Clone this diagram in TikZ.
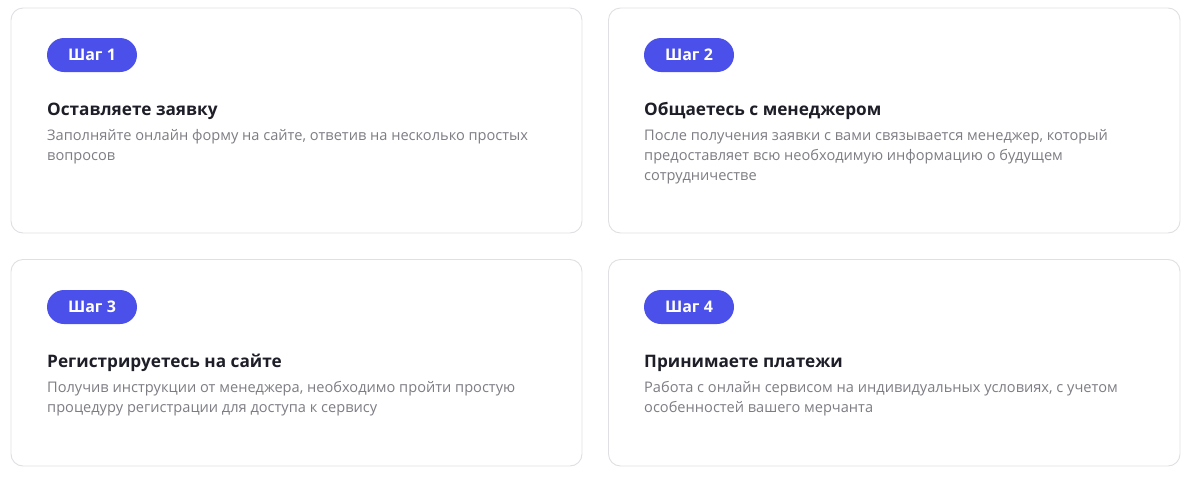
\documentclass[tikz,border=0pt]{standalone}
\usepackage{fontspec}
\setmainfont{Open Sans}
\definecolor{stepblue}{RGB}{74,80,233}
\definecolor{titleink}{RGB}{30,30,40}
\definecolor{bodygray}{RGB}{125,125,132}
\definecolor{cardline}{RGB}{224,224,228}
\tikzset{
    card/.style={draw=cardline, line width=0.9pt, rounded corners=12pt, fill=white},
    steppill/.style={fill=stepblue, rounded corners=17pt, minimum width=90pt, minimum height=34pt,
        inner sep=0pt, text=white, font=\bfseries\fontsize{16}{16}\selectfont},
    cardtitle/.style={anchor=base west, inner sep=0pt, text=titleink, font=\bfseries\fontsize{17.2}{17}\selectfont},
    cardtext/.style={anchor=base west, inner sep=0pt, text=bodygray, font=\fontsize{14.6}{20}\selectfont}
}
\begin{document}
\begin{tikzpicture}[x=1pt, y=-1pt]
        \useasboundingbox[fill=white] (0,0) rectangle (1184,480);

        % cards
        \draw[card] (11,8) rectangle (582,233);
        \draw[card] (608.5,8) rectangle (1180,233);
        \draw[card] (11,259.5) rectangle (582,466);
        \draw[card] (608.5,259.5) rectangle (1180,466);

        % step 1
        \node[steppill] (pill1) at (92,55) {Шаг 1};
        \node[cardtitle] (title1) at (47,115.5) {Оставляете заявку};
        \node[cardtext] (text1a) at (47,140.5) {Заполняйте онлайн форму на сайте, ответив на несколько простых};
        \node[cardtext] (text1b) at (47,160.5) {вопросов};

        % step 2
        \node[steppill] (pill2) at (689,55) {Шаг 2};
        \node[cardtitle] (title2) at (644,115.5) {Общаетесь с менеджером};
        \node[cardtext] (text2a) at (644,140.5) {После получения заявки с вами связывается менеджер, который};
        \node[cardtext] (text2b) at (644,160.5) {предоставляет всю необходимую информацию о будущем};
        \node[cardtext] (text2c) at (644,180.5) {сотрудничестве};

        % step 3
        \node[steppill] (pill3) at (92,307) {Шаг 3};
        \node[cardtitle] (title3) at (47,367.5) {Регистрируетесь на сайте};
        \node[cardtext] (text3a) at (47,392.5) {Получив инструкции от менеджера, необходимо пройти простую};
        \node[cardtext] (text3b) at (47,412.5) {процедуру регистрации для доступа к сервису};

        % step 4
        \node[steppill] (pill4) at (689,307) {Шаг 4};
        \node[cardtitle] (title4) at (644,367.5) {Принимаете платежи};
        \node[cardtext] (text4a) at (644,392.5) {Работа с онлайн сервисом на индивидуальных условиях, с учетом};
        \node[cardtext] (text4b) at (644,412.5) {особенностей вашего мерчанта};
    \end{tikzpicture}
\end{document}
